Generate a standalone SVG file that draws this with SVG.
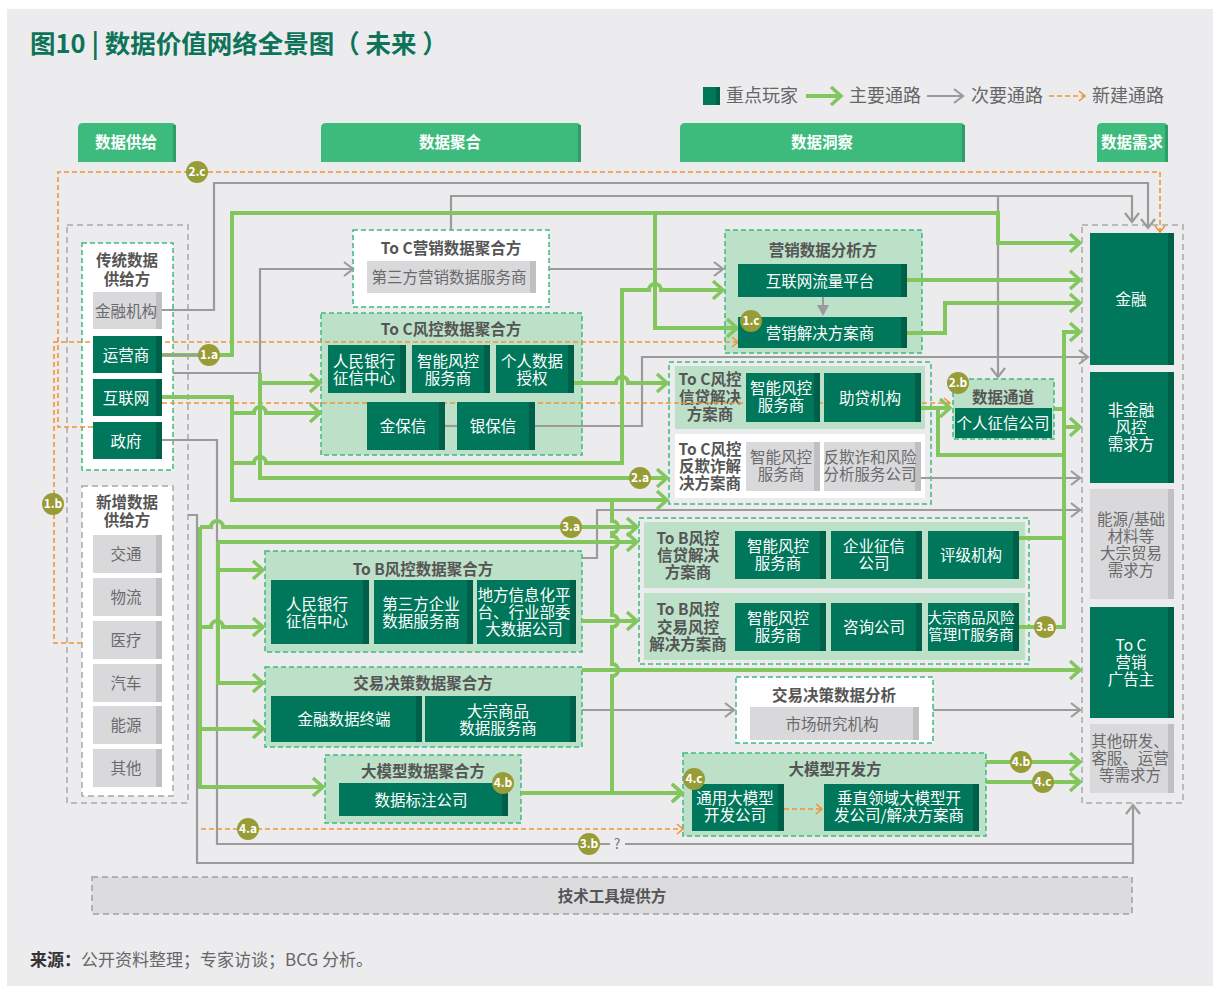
<svg xmlns="http://www.w3.org/2000/svg" width="1213" height="986" viewBox="0 0 1213 986" font-family="'Noto Sans CJK SC','Noto Sans',sans-serif">
<defs>
<style>
.g{fill:none;stroke:#84C65E;stroke-width:4}
.gr{fill:none;stroke:#9B9B9B;stroke-width:2.2}
.or{fill:none;stroke:#F39234;stroke-width:1.6;stroke-dasharray:5 3}
.panel{fill:#BCE0C8;stroke:#3DBB7D;stroke-width:1.5;stroke-dasharray:5 3}
.wpanel{fill:#fff;stroke:#3DBB7D;stroke-width:1.5;stroke-dasharray:5 3}
.opanel{fill:none;stroke:#3DBB7D;stroke-width:1.5;stroke-dasharray:5 3}
.gbox{fill:none;stroke:#A8A8A8;stroke-width:1.5;stroke-dasharray:6 4}
.gwbox{fill:#fff;stroke:#A8A8A8;stroke-width:1.5;stroke-dasharray:6 4}
.dk{fill:#00775A}
.dks{fill:#005F48}
.lt{fill:#D9D9DC}
.lts{fill:#C0C0C3}
.wt{fill:#fff;font-size:15.5px;text-anchor:middle}
.gt{fill:#6A6A6A;font-size:15.5px;text-anchor:middle}
.pt{fill:#555;font-size:15.5px;font-weight:bold;text-anchor:middle}
.tab{fill:#3DBB7D}
.tabs{fill:#2E9E69}
.tt{fill:#fff;font-size:15.5px;font-weight:bold;text-anchor:middle}
.bd circle{fill:#989C37}
.bd text{fill:#fff;font-size:12px;font-weight:bold;text-anchor:middle}
.lg{fill:#666;font-size:18px}
</style>
<marker id="mg" viewBox="0 0 14 22" refX="12" refY="11" markerWidth="14" markerHeight="22" markerUnits="userSpaceOnUse" orient="auto" overflow="visible"><path d="M2,2 L12,11 L2,20" fill="none" stroke="#84C65E" stroke-width="3.5"/></marker>
<marker id="mgr" viewBox="0 0 13 18" refX="11" refY="9" markerWidth="13" markerHeight="18" markerUnits="userSpaceOnUse" orient="auto" overflow="visible"><path d="M2,2 L11,9 L2,16" fill="none" stroke="#9B9B9B" stroke-width="2.2"/></marker>
<marker id="mo" viewBox="0 0 10 14" refX="8" refY="7" markerWidth="10" markerHeight="14" markerUnits="userSpaceOnUse" orient="auto" overflow="visible"><path d="M2,2 L8,7 L2,12" fill="none" stroke="#F39234" stroke-width="1.6"/></marker>
</defs>

<rect x="0" y="0" width="1213" height="986" fill="#fff"/>
<rect x="7" y="9" width="1206" height="977" fill="#ECECEE"/>

<text x="30" y="53" font-size="25.5" font-weight="bold" fill="#0E7459">图10 | 数据价值网络全景图（ 未来 ）</text>

<g id="legend">
<rect x="703" y="87" width="17" height="18" fill="#00775A"/><rect x="716" y="87" width="4" height="18" fill="#005F48"/>
<text class="lg" x="726" y="102">重点玩家</text>
<path class="g" d="M806,96 H841" marker-end="url(#mg)"/>
<text class="lg" x="849" y="102">主要通路</text>
<path class="gr" d="M927,96 H963" marker-end="url(#mgr)"/>
<text class="lg" x="971" y="102">次要通路</text>
<path class="or" d="M1049,96 H1085" marker-end="url(#mo)"/>
<text class="lg" x="1092" y="102">新建通路</text>
</g>

<g id="columns">
<g id="col-supply"><path class="tab" d="M78,162 V128 Q78,123 83,123 H171 Q176,123 176,128 V162 Z"/><rect class="tabs" x="173" y="125" width="3" height="37"/><text class="tt" x="126" y="148">数据供给</text></g>
<g id="col-agg"><path class="tab" d="M321,162 V128 Q321,123 326,123 H576 Q581,123 581,128 V162 Z"/><rect class="tabs" x="578" y="125" width="3" height="37"/><text class="tt" x="450" y="148">数据聚合</text></g>
<g id="col-insight"><path class="tab" d="M680,162 V128 Q680,123 685,123 H960 Q965,123 965,128 V162 Z"/><rect class="tabs" x="962" y="125" width="3" height="37"/><text class="tt" x="822" y="148">数据洞察</text></g>
<g id="col-demand"><path class="tab" d="M1097,162 V128 Q1097,123 1102,123 H1163 Q1168,123 1168,128 V162 Z"/><rect class="tabs" x="1165" y="125" width="3" height="37"/><text class="tt" x="1132" y="148">数据需求</text></g>
</g>

<g id="containers">
<g id="supply-outer"><rect class="gbox" x="67" y="225" width="121" height="578"/></g>
<g id="traditional-supply"><rect class="wpanel" x="82" y="243" width="91" height="227"/><text class="pt" x="127" y="266">传统数据<tspan x="127" dy="19">供给方</tspan></text></g>
<g id="new-supply"><rect class="gwbox" x="82" y="486" width="91" height="310"/><text class="pt" x="127" y="508">新增数据<tspan x="127" dy="18">供给方</tspan></text></g>
<g id="toc-mkt-agg"><rect class="wpanel" x="353" y="230" width="196" height="77"/><text class="pt" x="451" y="254">To C营销数据聚合方</text></g>
<g id="toc-risk-agg"><rect class="panel" x="321" y="313" width="261" height="142"/><text class="pt" x="451" y="335">To C风控数据聚合方</text></g>
<g id="tob-risk-agg"><rect class="panel" x="265" y="551" width="317" height="101"/><text class="pt" x="423" y="575">To B风控数据聚合方</text></g>
<g id="trade-agg"><rect class="panel" x="265" y="667" width="317" height="80"/><text class="pt" x="423" y="689">交易决策数据聚合方</text></g>
<g id="llm-agg"><rect class="panel" x="325" y="755" width="196" height="68"/><text class="pt" x="423" y="777">大模型数据聚合方</text></g>
<g id="mkt-analysis"><rect class="panel" x="725" y="230" width="197" height="123"/><text class="pt" x="823" y="256">营销数据分析方</text></g>
<g id="toc-risk-sol"><rect class="opanel" x="669" y="362" width="262" height="142"/><rect x="675" y="366" width="250" height="63" fill="#BCE0C8"/><rect x="675" y="434" width="250" height="64" fill="#fff"/>
<text class="pt" x="710" y="385">To C风控<tspan x="710" dy="17.5">信贷解决</tspan><tspan x="710" dy="17.5">方案商</tspan></text>
<text class="pt" x="710" y="455">To C风控<tspan x="710" dy="17">反欺诈解</tspan><tspan x="710" dy="17">决方案商</tspan></text></g>
<g id="data-channel"><rect class="panel" x="953" y="379" width="101" height="60"/><text class="pt" x="1003" y="403">数据通道</text></g>
<g id="tob-risk-sol"><rect class="opanel" x="639" y="518" width="390" height="146"/><rect x="644" y="522" width="381" height="66" fill="#BCE0C8"/><rect x="644" y="593" width="381" height="67" fill="#BCE0C8"/>
<text class="pt" x="688" y="544">To B风控<tspan x="688" dy="17">信贷解决</tspan><tspan x="688" dy="17">方案商</tspan></text>
<text class="pt" x="688" y="615">To B风控<tspan x="688" dy="17.5">交易风控</tspan><tspan x="688" dy="17.5">解决方案商</tspan></text></g>
<g id="trade-analysis"><rect class="wpanel" x="736" y="677" width="197" height="66"/><text class="pt" x="834" y="701">交易决策数据分析</text></g>
<g id="llm-dev"><rect class="panel" x="683" y="753" width="303" height="83"/><text class="pt" x="835" y="775">大模型开发方</text></g>
<g id="demand-outer"><rect class="gbox" x="1082" y="225" width="101" height="578"/></g>
<g id="tech-tools"><rect x="92" y="877" width="1040" height="37" fill="#DCDCDF" stroke="#A0A0A0" stroke-width="1.5" stroke-dasharray="6 4"/><text class="pt" x="612" y="902">技术工具提供方</text></g>
</g>

<g id="connectors">
<path class="gr" d="M162,310 H214 V183 H1148 V228" marker-end="url(#mgr)"/>
<path class="gr" d="M451,230 V196 H1132 V222" marker-end="url(#mgr)"/>
<path class="gr" d="M998,196 V377" marker-end="url(#mgr)"/>
<path class="gr" d="M173,373 H260 V269 H353" marker-end="url(#mgr)"/>
<path class="gr" d="M549,269 H723" marker-end="url(#mgr)"/>
<path class="gr" d="M445,426 H457"/>
<path class="gr" d="M535,426 H642 V357 H1088" marker-end="url(#mgr)"/>
<path class="gr" d="M921,478 H1080" marker-end="url(#mgr)"/>
<path class="gr" d="M582,558 H597 V510 H1080" marker-end="url(#mgr)"/>
<path class="gr" d="M582,710 H734" marker-end="url(#mgr)"/>
<path class="gr" d="M933,710 H1080" marker-end="url(#mgr)"/>
<path class="gr" d="M162,440 H217 V844 H610"/>
<path class="gr" d="M625,844 H1133"/>
<path class="gr" d="M188,515 H197 V863 H1133 V805" marker-end="url(#mgr)"/>
<text x="617" y="849" font-size="14" fill="#777" text-anchor="middle">?</text>
<path class="or" d="M82,643 H54 V342 H738" marker-end="url(#mo)"/>
<path class="or" d="M93,427 H58 V172 H1160 V232" marker-end="url(#mo)"/>
<path class="or" d="M162,403 H950" marker-end="url(#mo)"/>
<path class="or" d="M201,829 H683" marker-end="url(#mo)"/>
<path class="or" d="M784,809 H822" marker-end="url(#mo)"/>
<path class="g" d="M162,355 H232 V213 H998 V243 H1080" marker-end="url(#mg)"/>
<path class="gr" d="M162,355 H200"/>
<path class="g" d="M655,213 V328 H737" marker-end="url(#mg)"/>
<path class="g" d="M260,373 V478 H667" marker-end="url(#mg)"/>
<path class="g" d="M260,383 H320" marker-end="url(#mg)"/>
<path class="g" d="M162,397 H232 V500 H667" marker-end="url(#mg)"/>
<path class="g" d="M232,413 H254 A6,6 0 0 1 266,413 H320" marker-end="url(#mg)"/>
<path class="g" d="M232,463 H254 A6,6 0 0 1 266,463 H622 V290 H649 A6,6 0 0 1 661,290 H723" marker-end="url(#mg)"/>
<path class="g" d="M574,383 H616 A6,6 0 0 1 628,383 H667" marker-end="url(#mg)"/>
<path class="g" d="M907,280 H1080" marker-end="url(#mg)"/>
<path class="g" d="M907,333 H945 V303 H1080" marker-end="url(#mg)"/>
<path class="g" d="M921,408 H950" marker-end="url(#mg)"/>
<path class="g" d="M938,408 V455 H1064"/>
<path class="g" d="M1054,409 H1064"/>
<path class="g" d="M1019,538 H1064"/>
<path class="g" d="M1019,627 H1064 V332 H1080" marker-end="url(#mg)"/>
<path class="g" d="M1064,427 H1080" marker-end="url(#mg)"/>
<path class="g" d="M200,527 V787 H323" marker-end="url(#mg)"/>
<path class="g" d="M200,527 H211 A6,6 0 0 1 223,527 H637" marker-end="url(#mg)"/>
<path class="g" d="M200,627 H211 A6,6 0 0 1 223,627 H263" marker-end="url(#mg)"/>
<path class="g" d="M200,729 H263" marker-end="url(#mg)"/>
<path class="g" d="M218,542 H637" marker-end="url(#mg)"/>
<path class="g" d="M218,542 V683 H263" marker-end="url(#mg)"/>
<path class="g" d="M218,570 H263" marker-end="url(#mg)"/>
<path class="g" d="M582,621 H637" marker-end="url(#mg)"/>
<path class="g" d="M582,670 H1080" marker-end="url(#mg)"/>
<path class="g" d="M612,500 V521 A6,6 0 0 1 612,533 V536 A6,6 0 0 1 612,548 V615 A6,6 0 0 1 612,627 V664 A6,6 0 0 1 612,676 V793 H682" marker-end="url(#mg)"/>
<path class="g" d="M521,793 H682" marker-end="url(#mg)"/>
<path class="g" d="M986,762 H1080" marker-end="url(#mg)"/>
<path class="g" d="M986,782 H1080" marker-end="url(#mg)"/>
<path d="M823,297 V306" stroke="#9B9B9B" stroke-width="2"/>
<path d="M817,305 H829 L823,316 Z" fill="#9B9B9B"/>
</g>

<g id="nodes">
<g id="fin-inst"><rect class="lt" x="93" y="292" width="69" height="37"/><rect class="lts" x="156" y="292" width="6" height="37"/><text class="gt" x="126" y="316.5">金融机构</text></g>
<g id="carrier"><rect class="dk" x="93" y="336" width="69" height="37"/><rect class="dks" x="156" y="336" width="6" height="37"/><text class="wt" x="126" y="360.5">运营商</text></g>
<g id="internet"><rect class="dk" x="93" y="379" width="69" height="37"/><rect class="dks" x="156" y="379" width="6" height="37"/><text class="wt" x="126" y="403.5">互联网</text></g>
<g id="gov"><rect class="dk" x="93" y="422" width="69" height="37"/><rect class="dks" x="156" y="422" width="6" height="37"/><text class="wt" x="126" y="446.5">政府</text></g>
<g id="traffic"><rect class="lt" x="93" y="535" width="69" height="38"/><rect class="lts" x="156" y="535" width="6" height="38"/><text class="gt" x="126" y="560">交通</text></g>
<g id="logistics"><rect class="lt" x="93" y="578" width="69" height="38"/><rect class="lts" x="156" y="578" width="6" height="38"/><text class="gt" x="126" y="603">物流</text></g>
<g id="medical"><rect class="lt" x="93" y="621" width="69" height="38"/><rect class="lts" x="156" y="621" width="6" height="38"/><text class="gt" x="126" y="646">医疗</text></g>
<g id="auto"><rect class="lt" x="93" y="664" width="69" height="38"/><rect class="lts" x="156" y="664" width="6" height="38"/><text class="gt" x="126" y="689">汽车</text></g>
<g id="energy"><rect class="lt" x="93" y="706" width="69" height="38"/><rect class="lts" x="156" y="706" width="6" height="38"/><text class="gt" x="126" y="731">能源</text></g>
<g id="other-supply"><rect class="lt" x="93" y="749" width="69" height="38"/><rect class="lts" x="156" y="749" width="6" height="38"/><text class="gt" x="126" y="774">其他</text></g>

<g id="third-mkt"><rect class="lt" x="367" y="261" width="169" height="32"/><rect class="lts" x="530" y="261" width="6" height="32"/><text class="gt" x="449" y="283">第三方营销数据服务商</text></g>
<g id="pboc-c"><rect class="dk" x="328" y="345" width="78" height="48"/><rect class="dks" x="400" y="345" width="6" height="48"/><text class="wt" x="364" y="366.5">人民银行<tspan x="364" dy="17">征信中心</tspan></text></g>
<g id="smart-risk-c"><rect class="dk" x="412" y="345" width="78" height="48"/><rect class="dks" x="484" y="345" width="6" height="48"/><text class="wt" x="448" y="366.5">智能风控<tspan x="448" dy="17">服务商</tspan></text></g>
<g id="personal-auth"><rect class="dk" x="496" y="345" width="78" height="48"/><rect class="dks" x="568" y="345" width="6" height="48"/><text class="wt" x="532" y="366.5">个人数据<tspan x="532" dy="17">授权</tspan></text></g>
<g id="jinbaoxin"><rect class="dk" x="367" y="402" width="78" height="48"/><rect class="dks" x="439" y="402" width="6" height="48"/><text class="wt" x="403" y="432">金保信</text></g>
<g id="yinbaoxin"><rect class="dk" x="457" y="402" width="78" height="48"/><rect class="dks" x="529" y="402" width="6" height="48"/><text class="wt" x="493" y="432">银保信</text></g>

<g id="pboc-b"><rect class="dk" x="271" y="580" width="98" height="64"/><rect class="dks" x="363" y="580" width="6" height="64"/><text class="wt" x="317" y="609.5">人民银行<tspan x="317" dy="17">征信中心</tspan></text></g>
<g id="third-ent"><rect class="dk" x="374" y="580" width="99" height="64"/><rect class="dks" x="467" y="580" width="6" height="64"/><text class="wt" x="421" y="609.5">第三方企业<tspan x="421" dy="17">数据服务商</tspan></text></g>
<g id="local-platform"><rect class="dk" x="477" y="580" width="99" height="64"/><rect class="dks" x="570" y="580" width="6" height="64"/><text class="wt" x="524" y="601">地方信息化平<tspan x="524" dy="17">台、行业部委</tspan><tspan x="524" dy="17">大数据公司</tspan></text></g>
<g id="fin-terminal"><rect class="dk" x="271" y="696" width="151" height="46"/><rect class="dks" x="416" y="696" width="6" height="46"/><text class="wt" x="344" y="725">金融数据终端</text></g>
<g id="commodity-data"><rect class="dk" x="425" y="696" width="151" height="46"/><rect class="dks" x="570" y="696" width="6" height="46"/><text class="wt" x="498" y="717">大宗商品<tspan x="498" dy="17">数据服务商</tspan></text></g>
<g id="labeling"><rect class="dk" x="339" y="783" width="169" height="33"/><rect class="dks" x="502" y="783" width="6" height="33"/><text class="wt" x="421" y="805.5">数据标注公司</text></g>

<g id="traffic-platform"><rect class="dk" x="738" y="264" width="169" height="33"/><rect class="dks" x="901" y="264" width="6" height="33"/><text class="wt" x="820" y="286.5">互联网流量平台</text></g>
<g id="mkt-solution"><rect class="dk" x="738" y="317" width="169" height="31"/><rect class="dks" x="901" y="317" width="6" height="31"/><text class="wt" x="820" y="338.5">营销解决方案商</text></g>
<g id="smart-risk-credit"><rect class="dk" x="746" y="373" width="74" height="49"/><rect class="dks" x="814" y="373" width="6" height="49"/><text class="wt" x="781" y="394">智能风控<tspan x="781" dy="17">服务商</tspan></text></g>
<g id="loan-assist"><rect class="dk" x="824" y="373" width="97" height="49"/><rect class="dks" x="915" y="373" width="6" height="49"/><text class="wt" x="870" y="403.5">助贷机构</text></g>
<g id="smart-risk-fraud"><rect class="lt" x="746" y="442" width="74" height="49"/><rect class="lts" x="814" y="442" width="6" height="49"/><text class="gt" x="781" y="463">智能风控<tspan x="781" dy="17">服务商</tspan></text></g>
<g id="anti-fraud"><rect class="lt" x="824" y="442" width="97" height="49"/><rect class="lts" x="915" y="442" width="6" height="49"/><text class="gt" x="870" y="463">反欺诈和风险<tspan x="870" dy="17">分析服务公司</tspan></text></g>
<g id="personal-credit"><rect class="dk" x="955" y="408" width="97" height="30"/><text class="wt" x="1003" y="429">个人征信公司</text></g>

<g id="smart-risk-b1"><rect class="dk" x="735" y="531" width="91" height="48"/><rect class="dks" x="820" y="531" width="6" height="48"/><text class="wt" x="778" y="552">智能风控<tspan x="778" dy="17">服务商</tspan></text></g>
<g id="ent-credit"><rect class="dk" x="831" y="531" width="91" height="48"/><rect class="dks" x="916" y="531" width="6" height="48"/><text class="wt" x="874" y="552">企业征信<tspan x="874" dy="17">公司</tspan></text></g>
<g id="rating"><rect class="dk" x="928" y="531" width="91" height="48"/><rect class="dks" x="1013" y="531" width="6" height="48"/><text class="wt" x="971" y="561">评级机构</text></g>
<g id="smart-risk-b2"><rect class="dk" x="735" y="603" width="91" height="48"/><rect class="dks" x="820" y="603" width="6" height="48"/><text class="wt" x="778" y="624">智能风控<tspan x="778" dy="17">服务商</tspan></text></g>
<g id="consulting"><rect class="dk" x="831" y="603" width="91" height="48"/><rect class="dks" x="916" y="603" width="6" height="48"/><text class="wt" x="874" y="633">咨询公司</text></g>
<g id="commodity-it"><rect class="dk" x="928" y="603" width="91" height="48"/><rect class="dks" x="1013" y="603" width="6" height="48"/><text class="wt" x="971" y="623" style="font-size:14.5px">大宗商品风险<tspan x="971" dy="17">管理IT服务商</tspan></text></g>

<g id="market-research"><rect class="lt" x="750" y="707" width="169" height="33"/><rect class="lts" x="913" y="707" width="6" height="33"/><text class="gt" x="832" y="729.5">市场研究机构</text></g>
<g id="general-llm"><rect class="dk" x="692" y="784" width="92" height="47"/><rect class="dks" x="778" y="784" width="6" height="47"/><text class="wt" x="735" y="804">通用大模型<tspan x="735" dy="17">开发公司</tspan></text></g>
<g id="vertical-llm"><rect class="dk" x="824" y="784" width="155" height="47"/><rect class="dks" x="973" y="784" width="6" height="47"/><text class="wt" x="899" y="804">垂直领域大模型开<tspan x="899" dy="17">发公司/解决方案商</tspan></text></g>

<g id="d-finance"><rect class="dk" x="1090" y="233" width="84" height="132"/><rect class="dks" x="1168" y="233" width="6" height="132"/><text class="wt" x="1131" y="305">金融</text></g>
<g id="d-nonfin-risk"><rect class="dk" x="1090" y="372" width="84" height="111"/><rect class="dks" x="1168" y="372" width="6" height="111"/><text class="wt" x="1131" y="416">非金融<tspan x="1131" dy="17">风控</tspan><tspan x="1131" dy="17">需求方</tspan></text></g>
<g id="d-commodity"><rect class="lt" x="1090" y="489" width="84" height="110"/><rect class="lts" x="1168" y="489" width="6" height="110"/><text class="gt" x="1131" y="525">能源/基础<tspan x="1131" dy="17">材料等</tspan><tspan x="1131" dy="17">大宗贸易</tspan><tspan x="1131" dy="17">需求方</tspan></text></g>
<g id="d-advertiser"><rect class="dk" x="1090" y="607" width="84" height="111"/><rect class="dks" x="1168" y="607" width="6" height="111"/><text class="wt" x="1131" y="651">To C<tspan x="1131" dy="17">营销</tspan><tspan x="1131" dy="17">广告主</tspan></text></g>
<g id="d-other"><rect class="lt" x="1090" y="724" width="84" height="69"/><rect class="lts" x="1168" y="724" width="6" height="69"/><text class="gt" x="1130" y="747">其他研发、<tspan x="1130" dy="17">客服、运营</tspan><tspan x="1130" dy="17">等需求方</tspan></text></g>
</g>

<g id="badges">
<g class="bd"><circle cx="197" cy="172" r="11"/><text x="197" y="176">2.c</text></g>
<g class="bd"><circle cx="209" cy="355" r="11"/><text x="209" y="359">1.a</text></g>
<g class="bd"><circle cx="53" cy="504" r="11"/><text x="53" y="508">1.b</text></g>
<g class="bd"><circle cx="751" cy="321" r="11"/><text x="751" y="325">1.c</text></g>
<g class="bd"><circle cx="640" cy="478" r="11"/><text x="640" y="482">2.a</text></g>
<g class="bd"><circle cx="958" cy="383" r="11"/><text x="958" y="387">2.b</text></g>
<g class="bd"><circle cx="571" cy="527" r="11"/><text x="571" y="531">3.a</text></g>
<g class="bd"><circle cx="1045" cy="627" r="11"/><text x="1045" y="631">3.a</text></g>
<g class="bd"><circle cx="589" cy="844" r="11"/><text x="589" y="848">3.b</text></g>
<g class="bd"><circle cx="248" cy="829" r="11"/><text x="248" y="833">4.a</text></g>
<g class="bd"><circle cx="503" cy="783" r="11"/><text x="503" y="787">4.b</text></g>
<g class="bd"><circle cx="1021" cy="762" r="11"/><text x="1021" y="766">4.b</text></g>
<g class="bd"><circle cx="694" cy="779" r="11"/><text x="694" y="783">4.c</text></g>
<g class="bd"><circle cx="1043" cy="782" r="11"/><text x="1043" y="786">4.c</text></g>
</g>

<text x="30" y="966" font-size="17"><tspan font-weight="bold" fill="#333">来源：</tspan><tspan fill="#666">公开资料整理；专家访谈；BCG 分析。</tspan></text>
</svg>
